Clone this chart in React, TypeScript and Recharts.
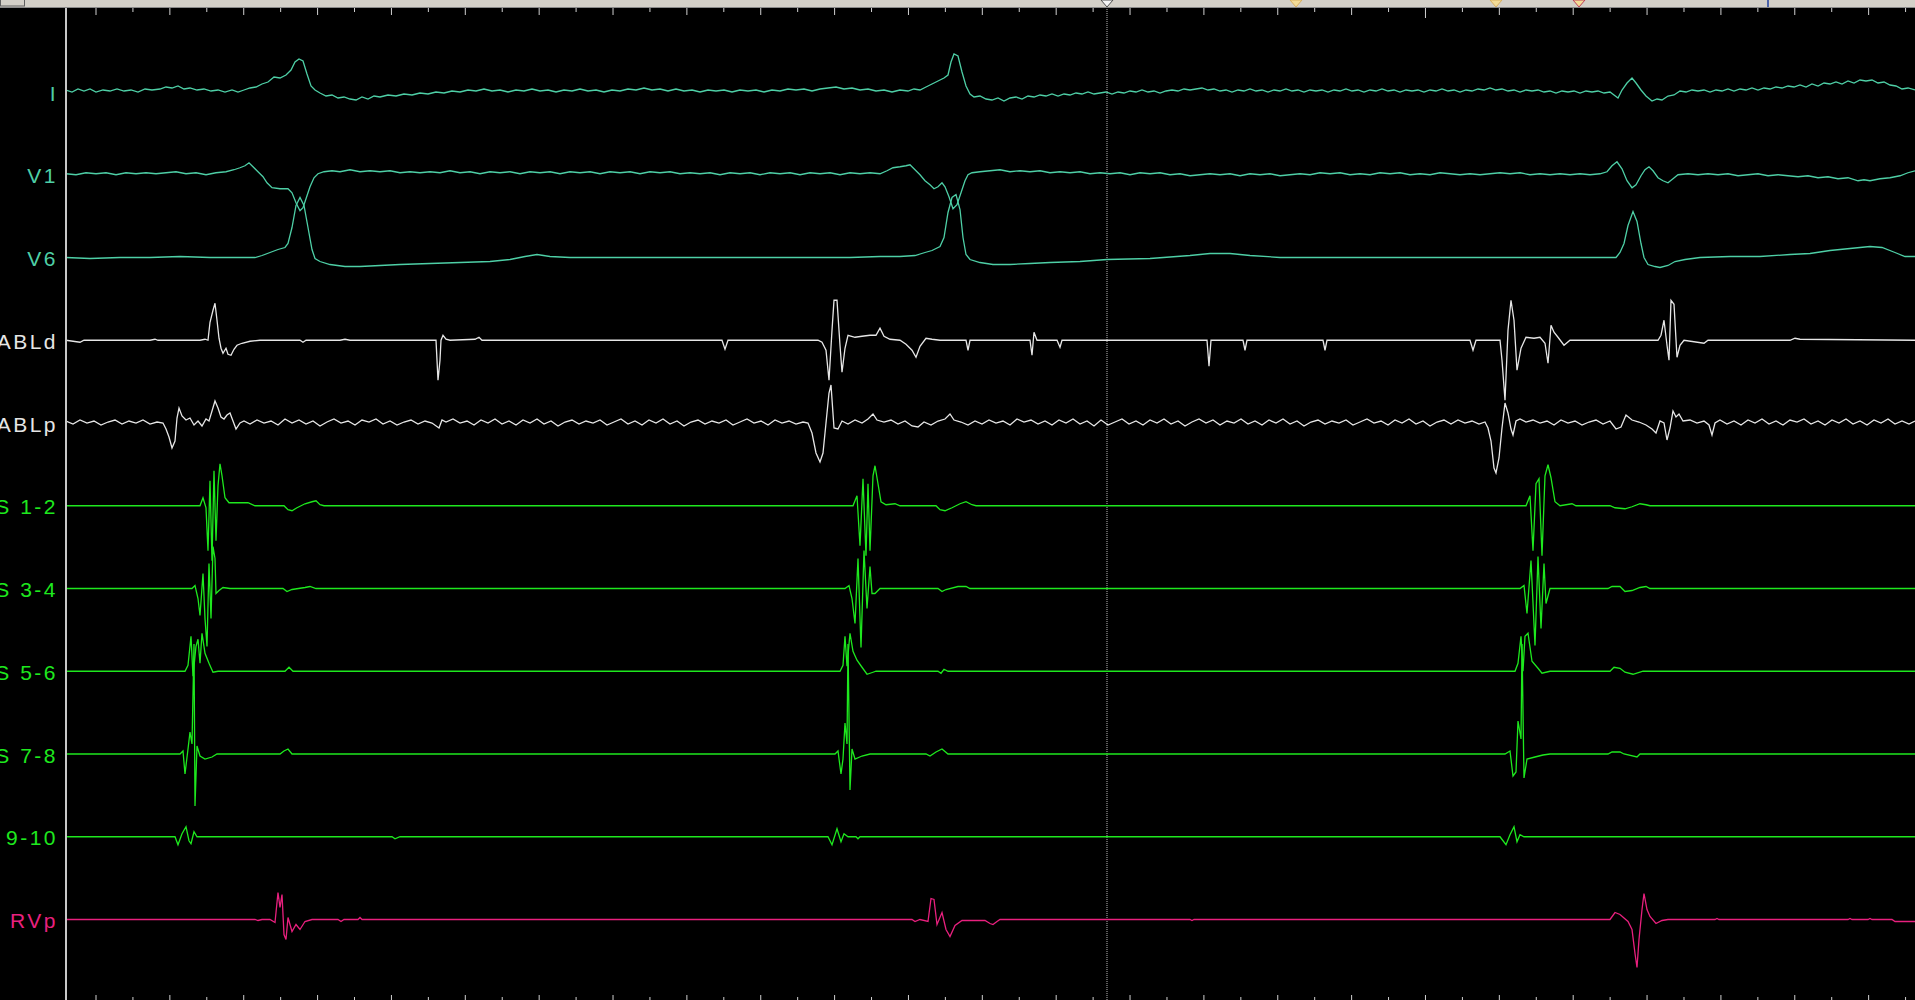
import React from 'react';
import { LineChart, Line, XAxis, YAxis, ReferenceLine } from 'recharts';

// time window in ms, amplitudes in display units (up = positive), one array per channel
type Pt = [number, number];

const channelNames = ['I', 'V1', 'V6', 'ABLd', 'ABLp', 'CS 1-2', 'CS 3-4', 'CS 5-6', 'CS 7-8', 'CS 9-10', 'RVp'];
const channelColors = ['#4ecfa6', '#4ecfa6', '#4ecfa6', '#e6e6e6', '#e6e6e6', '#1ee81e', '#1ee81e', '#1ee81e', '#1ee81e', '#1ee81e', '#e8207e'];

const leadI: Pt[] = [[66,2],[72,0],[78,3],[84,1],[90,3],[96,0],[103,2],[110,1],[117,3],[124,1],[131,2],[138,0],[145,3],[152,2],[160,3],[166,5],[172,4],[178,6],[184,3],[190,4],[197,2],[204,3],[211,1],[218,2],[225,0],[232,2],[238,0],[244,2],[250,4],[256,5],[262,8],[268,10],[274,15],[280,14],[286,17],[291,22],[295,30],[299,33],[303,31],[307,18],[311,6],[315,2],[320,-1],[326,-4],[332,-3],[338,-6],[344,-5],[350,-7],[356,-8],[362,-5],[368,-7],[374,-4],[380,-5],[388,-3],[396,-4],[404,-2],[412,-3],[420,-1],[428,-2],[436,0],[444,-1],[452,1],[460,0],[468,2],[476,1],[484,3],[492,1],[500,2],[508,0],[516,2],[524,1],[532,3],[540,1],[548,2],[556,0],[564,2],[572,1],[580,3],[588,1],[596,2],[604,0],[612,2],[620,1],[628,3],[636,2],[644,4],[652,2],[660,3],[668,1],[676,3],[684,1],[692,2],[700,0],[708,2],[716,1],[724,2],[732,0],[740,2],[748,1],[756,2],[764,0],[772,2],[780,1],[788,3],[796,2],[804,3],[812,1],[820,3],[828,4],[836,5],[844,3],[852,4],[860,2],[868,3],[876,1],[884,2],[892,0],[900,2],[908,1],[914,3],[920,2],[926,5],[932,8],[938,11],[944,14],[948,17],[951,30],[954,38],[958,36],[962,20],[966,6],[970,-2],[974,-5],[980,-4],[986,-7],[992,-8],[998,-6],[1004,-9],[1010,-6],[1016,-5],[1022,-7],[1028,-4],[1034,-5],[1040,-3],[1046,-4],[1052,-2],[1058,-4],[1064,-2],[1070,-3],[1076,-1],[1082,-2],[1088,0],[1094,-2],[1100,-1],[1106,0],[1112,-2],[1118,0],[1124,-1],[1130,1],[1136,0],[1142,2],[1148,0],[1154,1],[1160,-1],[1166,1],[1172,2],[1178,1],[1184,3],[1190,2],[1196,3],[1202,4],[1208,2],[1214,3],[1220,1],[1226,2],[1232,0],[1238,2],[1244,1],[1250,3],[1256,1],[1262,2],[1268,0],[1274,2],[1280,1],[1286,3],[1292,1],[1298,2],[1304,0],[1310,2],[1316,1],[1322,2],[1328,0],[1334,2],[1340,1],[1346,3],[1352,1],[1358,2],[1364,0],[1370,2],[1376,1],[1382,3],[1388,1],[1394,2],[1400,0],[1406,2],[1412,1],[1418,2],[1424,0],[1430,2],[1436,1],[1442,3],[1448,1],[1454,2],[1460,0],[1466,2],[1472,1],[1478,3],[1484,2],[1490,4],[1496,2],[1502,3],[1508,1],[1514,2],[1520,0],[1526,2],[1532,1],[1538,2],[1544,0],[1550,1],[1556,-1],[1562,1],[1568,0],[1574,1],[1580,-1],[1586,1],[1592,0],[1598,1],[1604,-1],[1610,0],[1614,-3],[1618,-6],[1622,2],[1627,9],[1632,14],[1636,9],[1641,2],[1646,-4],[1652,-9],[1657,-7],[1662,-8],[1668,-4],[1674,-3],[1680,1],[1686,0],[1692,2],[1698,1],[1704,2],[1710,0],[1716,2],[1722,1],[1728,3],[1734,1],[1740,3],[1746,2],[1752,4],[1758,2],[1764,4],[1770,3],[1776,5],[1782,4],[1788,6],[1794,5],[1800,7],[1806,5],[1812,8],[1818,6],[1824,9],[1830,8],[1836,10],[1842,8],[1848,11],[1854,9],[1860,12],[1866,11],[1872,12],[1878,9],[1884,10],[1890,7],[1896,6],[1902,3],[1908,4],[1915,2]];

const leadV1: Pt[] = [[66,1],[76,0],[86,2],[96,1],[106,2],[116,0],[126,2],[136,1],[146,2],[156,1],[166,2],[176,3],[186,1],[196,2],[206,0],[216,2],[226,3],[234,5],[240,7],[245,9],[249,12],[253,8],[258,3],[263,-2],[267,-8],[272,-13],[280,-14],[288,-14],[292,-18],[296,-28],[300,-36],[303,-33],[306,-24],[310,-12],[314,-3],[318,1],[324,3],[332,4],[340,3],[350,5],[360,3],[370,4],[380,3],[390,4],[400,2],[410,3],[420,2],[430,3],[440,2],[450,4],[460,2],[470,3],[480,1],[490,3],[500,2],[510,3],[520,1],[530,3],[540,2],[550,3],[560,1],[570,3],[580,2],[590,3],[600,1],[610,3],[620,2],[630,3],[640,1],[650,3],[660,2],[670,3],[680,1],[690,2],[700,1],[710,2],[720,0],[730,2],[740,1],[750,2],[760,0],[770,2],[780,1],[790,2],[800,0],[810,2],[820,1],[830,2],[840,0],[850,2],[860,1],[870,2],[880,1],[887,4],[893,7],[900,8],[906,9],[910,10],[915,5],[920,0],[925,-6],[930,-10],[934,-14],[938,-12],[942,-8],[945,-12],[949,-22],[953,-34],[957,-30],[961,-18],[965,-6],[968,0],[972,2],[980,3],[990,4],[1000,5],[1010,3],[1020,4],[1030,3],[1040,4],[1050,2],[1060,3],[1070,2],[1080,3],[1090,1],[1100,2],[1110,1],[1120,2],[1130,0],[1140,2],[1150,1],[1160,2],[1170,0],[1180,1],[1190,-1],[1200,0],[1210,1],[1220,0],[1230,1],[1240,-1],[1250,1],[1260,0],[1270,1],[1280,-1],[1290,0],[1300,1],[1310,0],[1320,2],[1330,1],[1340,2],[1350,0],[1360,1],[1370,0],[1380,2],[1390,1],[1400,2],[1410,0],[1420,1],[1430,0],[1440,2],[1450,1],[1460,0],[1470,1],[1480,0],[1490,1],[1500,2],[1510,1],[1520,2],[1530,0],[1540,1],[1550,0],[1560,1],[1570,0],[1580,1],[1590,0],[1600,1],[1607,3],[1612,9],[1617,13],[1622,6],[1627,-6],[1632,-13],[1636,-10],[1641,-1],[1645,5],[1649,8],[1653,4],[1658,-3],[1663,-6],[1668,-8],[1673,-4],[1678,0],[1688,1],[1698,0],[1708,1],[1718,0],[1728,1],[1738,-1],[1748,0],[1758,1],[1768,-1],[1778,0],[1788,-1],[1798,-2],[1808,-1],[1818,-3],[1828,-2],[1838,-4],[1848,-3],[1858,-6],[1864,-5],[1870,-6],[1880,-4],[1890,-3],[1900,-1],[1908,2],[1915,4]];

const leadV6: Pt[] = [[66,0],[90,-1],[120,0],[150,0],[180,1],[210,0],[240,0],[255,0],[262,2],[270,5],[278,8],[285,10],[288,14],[292,30],[296,52],[300,60],[304,52],[308,30],[312,8],[315,-1],[320,-4],[330,-7],[345,-9],[360,-9],[380,-8],[400,-7],[430,-6],[460,-5],[490,-4],[510,-2],[525,1],[537,3],[550,1],[570,0],[600,0],[650,0],[700,0],[750,0],[800,0],[850,0],[880,1],[900,1],[915,2],[925,5],[932,7],[940,11],[944,20],[948,45],[952,60],[956,63],[960,48],[963,20],[966,3],[970,-2],[980,-5],[993,-7],[1010,-7],[1030,-6],[1050,-5],[1080,-4],[1107,-2],[1150,-1],[1190,2],[1210,4],[1230,4],[1250,2],[1280,0],[1320,0],[1400,0],[1450,0],[1500,0],[1550,0],[1600,0],[1616,0],[1620,5],[1624,14],[1628,32],[1633,46],[1637,36],[1641,14],[1644,0],[1648,-7],[1655,-9],[1660,-10],[1668,-8],[1675,-4],[1685,-2],[1700,0],[1730,1],[1760,1],[1790,3],[1810,4],[1830,7],[1850,9],[1870,11],[1882,10],[1895,5],[1905,1],[1915,1]];

const ablDistal: Pt[] = [[66,0],[80,-2],[84,0],[150,0],[155,1],[158,0],[200,0],[205,1],[208,0],[210,18],[213,30],[215,37],[217,20],[219,2],[221,-8],[223,-13],[226,-8],[228,-14],[231,-15],[234,-9],[237,-5],[242,-3],[250,-1],[260,0],[300,0],[303,-2],[306,0],[340,0],[345,1],[350,0],[436,0],[438,-40],[440,-20],[441,0],[443,5],[446,1],[450,0],[475,1],[479,3],[482,0],[722,0],[725,-9],[728,0],[818,0],[822,-2],[826,-10],[829,-40],[832,10],[834,40],[837,40],[840,-5],[842,-32],[845,-8],[848,5],[855,3],[862,4],[870,5],[876,5],[880,12],[884,4],[890,1],[900,0],[906,-4],[912,-10],[916,-17],[920,-6],[926,2],[932,1],[940,0],[966,0],[968,-10],[970,0],[1030,0],[1032,-15],[1034,8],[1037,0],[1057,0],[1060,-7],[1062,0],[1207,0],[1209,-26],[1211,0],[1243,0],[1245,-10],[1247,0],[1323,0],[1325,-10],[1327,0],[1470,0],[1473,-10],[1476,0],[1500,0],[1502,-20],[1505,-60],[1508,10],[1511,40],[1514,20],[1517,-30],[1521,-8],[1526,3],[1534,2],[1540,3],[1545,-3],[1548,-23],[1551,15],[1554,8],[1558,3],[1564,-5],[1570,0],[1658,0],[1661,5],[1664,20],[1667,-5],[1669,-20],[1671,40],[1674,36],[1677,-17],[1680,-5],[1684,0],[1704,-3],[1708,0],[1790,0],[1795,2],[1800,1],[1915,0]];

const ablProximal: Pt[] = [[66,2],[73,-1],[80,3],[87,0],[94,2],[101,-2],[108,1],[115,3],[122,-1],[129,2],[136,0],[143,3],[150,-1],[157,1],[163,0],[166,-6],[169,-14],[172,-25],[175,-18],[177,5],[179,15],[182,7],[186,3],[190,5],[194,-2],[198,2],[202,-3],[206,4],[209,2],[212,12],[215,22],[218,15],[221,6],[224,4],[227,8],[230,10],[233,2],[236,-6],[240,0],[244,2],[250,-1],[257,3],[264,0],[271,2],[278,-2],[285,4],[292,0],[299,3],[306,-1],[313,2],[320,-3],[327,1],[334,4],[341,0],[348,2],[355,-2],[362,3],[369,1],[376,4],[383,-1],[390,2],[397,-2],[404,1],[411,3],[418,-1],[425,2],[432,0],[439,-5],[442,3],[446,1],[453,4],[460,0],[467,2],[474,-2],[481,3],[488,0],[495,4],[502,-1],[509,2],[516,-2],[523,3],[530,0],[537,4],[544,-1],[551,2],[558,-3],[565,1],[572,3],[579,-1],[586,2],[593,0],[600,3],[607,-2],[614,1],[621,4],[628,-1],[635,2],[642,-2],[649,3],[656,0],[663,4],[670,-1],[677,2],[684,-3],[691,1],[698,3],[705,-1],[712,2],[719,0],[726,3],[733,-2],[740,1],[747,4],[754,0],[761,2],[768,-2],[775,3],[782,0],[789,2],[796,-1],[803,1],[808,0],[812,-10],[816,-30],[820,-39],[823,-30],[826,0],[829,30],[831,38],[834,-5],[838,-6],[842,2],[848,-1],[855,3],[862,0],[868,4],[873,9],[877,3],[884,1],[891,3],[898,-1],[905,2],[912,-3],[918,-4],[924,1],[931,-2],[938,2],[945,4],[950,9],[954,3],[961,1],[968,-2],[975,2],[982,-1],[989,3],[996,0],[1003,2],[1010,-2],[1017,4],[1024,1],[1031,3],[1038,-1],[1045,2],[1052,-2],[1059,3],[1066,0],[1073,4],[1080,-1],[1087,2],[1094,-3],[1101,3],[1108,-2],[1115,1],[1122,4],[1129,-1],[1136,2],[1143,-2],[1150,3],[1157,0],[1164,4],[1171,-1],[1178,2],[1185,-3],[1192,1],[1199,4],[1206,0],[1213,3],[1220,-2],[1227,2],[1234,0],[1241,4],[1248,-1],[1255,2],[1262,-2],[1269,3],[1276,0],[1283,4],[1290,-1],[1297,2],[1304,-3],[1311,1],[1318,3],[1325,-1],[1332,2],[1339,0],[1346,3],[1353,-2],[1360,1],[1367,4],[1374,0],[1381,2],[1388,-2],[1395,3],[1402,0],[1409,4],[1416,-1],[1423,2],[1430,-3],[1437,1],[1444,3],[1451,-1],[1458,3],[1465,0],[1472,2],[1479,-1],[1485,1],[1488,-5],[1491,-18],[1494,-45],[1496,-50],[1499,-35],[1502,-5],[1505,20],[1508,10],[1511,-6],[1513,-12],[1516,2],[1520,4],[1526,1],[1533,3],[1540,0],[1547,2],[1554,-2],[1561,3],[1568,0],[1575,2],[1582,-2],[1589,1],[1596,3],[1603,-1],[1610,2],[1616,-6],[1621,-4],[1626,8],[1632,3],[1639,1],[1646,-2],[1652,-6],[1656,-10],[1660,2],[1664,0],[1667,-17],[1670,-5],[1673,12],[1676,6],[1679,9],[1683,2],[1690,3],[1697,0],[1704,2],[1709,-2],[1712,-12],[1715,0],[1720,3],[1727,-1],[1734,2],[1741,-2],[1748,3],[1755,0],[1762,4],[1769,-1],[1776,2],[1783,-2],[1790,3],[1797,1],[1804,4],[1811,-1],[1818,2],[1825,-2],[1832,3],[1839,0],[1846,4],[1853,-1],[1860,2],[1867,-2],[1874,3],[1881,0],[1888,4],[1895,-1],[1902,2],[1909,-1],[1915,2]];

const cs12: Pt[] = [[66,0],[200,0],[203,8],[206,-2],[208,-45],[210,25],[212,-55],[214,35],[216,-35],[218,20],[220,42],[222,30],[225,8],[229,3],[240,3],[248,3],[255,0],[284,0],[288,-4],[292,-5],[297,-2],[305,2],[312,4],[316,5],[320,1],[324,0],[853,0],[857,10],[860,-40],[863,27],[866,-50],[868,22],[870,-45],[873,30],[875,40],[878,22],[881,4],[886,1],[895,2],[900,0],[936,0],[940,-4],[945,-5],[952,-2],[960,2],[966,4],[972,1],[976,0],[1526,0],[1530,10],[1533,-45],[1536,22],[1539,27],[1542,-50],[1545,30],[1548,41],[1551,28],[1555,4],[1560,0],[1572,2],[1576,0],[1610,0],[1615,-2],[1625,-3],[1632,-1],[1640,2],[1646,1],[1650,0],[1915,0]];

const cs34: Pt[] = [[66,0],[192,0],[195,3],[198,-10],[200,-27],[203,15],[205,-30],[207,-58],[209,25],[211,-30],[213,42],[215,30],[216,-5],[219,-2],[223,1],[230,0],[283,0],[287,-3],[292,-1],[305,1],[310,2],[316,0],[845,0],[849,3],[852,-10],[855,-35],[858,30],[861,-59],[864,38],[867,-20],[870,22],[872,-5],[875,-5],[880,0],[938,0],[942,-3],[946,-1],[958,2],[966,2],[970,0],[1520,0],[1524,3],[1527,-25],[1531,28],[1535,-57],[1538,32],[1541,-40],[1544,25],[1546,-15],[1550,0],[1608,0],[1612,2],[1620,2],[1625,-3],[1632,-2],[1640,1],[1646,2],[1650,0],[1915,0]];

const cs56: Pt[] = [[66,0],[185,0],[188,6],[191,35],[193,-5],[196,25],[198,32],[200,8],[202,38],[205,18],[209,8],[213,-1],[218,0],[285,0],[289,4],[293,0],[840,0],[843,6],[845,35],[847,5],[850,38],[853,20],[857,11],[862,4],[867,-3],[873,-1],[876,0],[938,0],[941,-2],[944,2],[948,0],[1515,0],[1518,8],[1521,35],[1523,0],[1525,35],[1528,38],[1532,10],[1538,3],[1542,-2],[1550,0],[1610,0],[1614,4],[1620,3],[1625,-1],[1633,-3],[1643,0],[1915,0]];

const cs78: Pt[] = [[66,0],[180,0],[183,3],[185,-20],[188,5],[190,22],[192,10],[194,110],[195,-52],[197,8],[200,-2],[205,-5],[212,-3],[217,0],[280,0],[284,3],[288,5],[292,0],[835,0],[838,3],[841,-20],[843,-5],[845,31],[847,10],[848,110],[850,-36],[852,5],[855,-5],[862,-2],[870,0],[926,0],[930,-2],[936,2],[942,5],[948,0],[1505,0],[1510,3],[1513,-22],[1516,-18],[1518,33],[1521,15],[1522,110],[1524,-24],[1527,-5],[1535,-3],[1543,-1],[1550,0],[1608,0],[1612,2],[1620,2],[1624,0],[1637,-3],[1640,0],[1915,0]];

const cs910: Pt[] = [[66,0],[175,0],[178,-8],[182,3],[186,10],[189,-4],[191,-7],[194,5],[197,0],[392,0],[395,-2],[400,0],[828,0],[832,-8],[837,8],[841,-5],[844,3],[848,0],[856,0],[858,-2],[860,0],[1500,0],[1506,-8],[1510,2],[1514,10],[1517,-5],[1520,2],[1524,0],[1915,0]];

const rvProximal: Pt[] = [[66,0],[255,0],[258,-1],[262,0],[270,0],[275,-3],[278,27],[280,12],[282,25],[284,-15],[286,-20],[288,2],[292,-12],[296,-5],[300,-10],[305,-2],[312,0],[338,0],[341,-2],[344,0],[358,0],[360,2],[362,0],[912,0],[915,-2],[920,0],[928,-2],[931,21],[934,20],[937,-5],[942,7],[946,-10],[950,-17],[955,-6],[962,-1],[985,-1],[990,-4],[993,-5],[997,-2],[1000,0],[1190,0],[1192,-1],[1194,0],[1610,0],[1615,7],[1620,5],[1628,-2],[1632,-10],[1635,-34],[1637,-48],[1639,-20],[1642,10],[1644,26],[1647,10],[1650,3],[1656,-4],[1662,-1],[1668,0],[1715,0],[1717,1],[1719,0],[1848,0],[1850,1],[1852,0],[1868,0],[1870,1],[1872,0],[1892,0],[1895,-2],[1915,-2]];

const channelData: Pt[][] = [leadI, leadV1, leadV6, ablDistal, ablProximal, cs12, cs34, cs56, cs78, cs910, rvProximal];

// time-scale ticks and marker times
const tickTimes = Array.from({ length: 50 }, (_, k) => 96 + 36.93 * k);
const cursorTime = 1107;
const markers = [
  { t: 1296, fill: '#f3dc97', stroke: '#d8b060' },
  { t: 1496, fill: '#f3dc97', stroke: '#d8b060' },
  { t: 1579, fill: '#f3dc97', stroke: '#c0405a' },
];

const ROW = 82.75;
const TOP = 92;
const W = 1915;
const H = 1000;
const LEFT = 66;

const ChannelLabel = (props: any) => {
  const { y, payload } = props;
  const i = Math.round(-payload.value / ROW);
  return (
    <text
      x={58}
      y={y + 1}
      textAnchor="end"
      dominantBaseline="central"
      fill={channelColors[i]}
      fontSize={21}
      letterSpacing={2.5}
      fontFamily='"Liberation Sans", Arial, sans-serif'
    >
      {channelNames[i]}
    </text>
  );
};

const App: React.FC = () => {
  const series = channelData.map((pts, i) => pts.map(([t, a]) => ({ t, v: a - ROW * i })));
  const rowTicks = channelNames.map((_, i) => -ROW * i);

  return (
    <div style={{ position: 'relative', width: W, height: H, background: '#000', overflow: 'hidden' }}>
      <style>{'body{margin:0;background:#000}'}</style>
      <LineChart width={W} height={H} margin={{ top: 0, right: 0, bottom: 0, left: 0 }}>
        <XAxis dataKey="t" type="number" domain={[LEFT, W]} allowDataOverflow hide />
        <YAxis
          type="number"
          domain={[TOP - H, TOP]}
          allowDataOverflow
          width={LEFT}
          ticks={rowTicks}
          interval={0}
          tickLine={false}
          axisLine={{ stroke: '#c8c8c8', strokeWidth: 2 }}
          tick={<ChannelLabel />}
        />
        {tickTimes.map((t, k) => (
          <ReferenceLine
            key={'tt' + k}
            segment={[{ x: t, y: TOP - 8 }, { x: t, y: TOP - (k === 36 ? 18 : k % 2 === 0 ? 15 : 12) }]}
            stroke="#d0d0d0"
            ifOverflow="visible"
          />
        ))}
        {tickTimes.map((t, k) => (
          <ReferenceLine
            key={'tb' + k}
            segment={[{ x: t, y: TOP - H }, { x: t, y: TOP - H + (k % 2 === 0 ? 5 : 3) }]}
            stroke="#d0d0d0"
            ifOverflow="visible"
          />
        ))}
        <ReferenceLine x={cursorTime} stroke="#b8b8b8" strokeDasharray="1 1" />
        {series.map((rows, i) => (
          <Line
            key={channelNames[i]}
            data={rows}
            dataKey="v"
            type="linear"
            stroke={channelColors[i]}
            strokeWidth={1.3}
            dot={false}
            activeDot={false}
            isAnimationActive={false}
          />
        ))}
      </LineChart>

      {/* toolbar strip at the top */}
      <svg width={W} height={9} style={{ position: 'absolute', left: 0, top: 0 }}>
        <rect x={0} y={0} width={W} height={7} fill="#d4d0c8" />
        <line x1={0} x2={W} y1={7.5} y2={7.5} stroke="#8a8a8a" />
        <rect x={0.5} y={-2} width={24} height={8} fill="#d4d0c8" stroke="#606060" />
        <path d={`M ${cursorTime - 6} 0 L ${cursorTime + 6} 0 L ${cursorTime} 7 Z`} fill="#f4f4f4" stroke="#505050" />
        {markers.map((m) => (
          <path key={m.t} d={`M ${m.t - 6} 0 L ${m.t + 6} 0 L ${m.t} 7 Z`} fill={m.fill} stroke={m.stroke} />
        ))}
        <line x1={1768} x2={1768} y1={0} y2={7} stroke="#2040a0" strokeWidth={1.5} />
      </svg>
    </div>
  );
};

export default App;
